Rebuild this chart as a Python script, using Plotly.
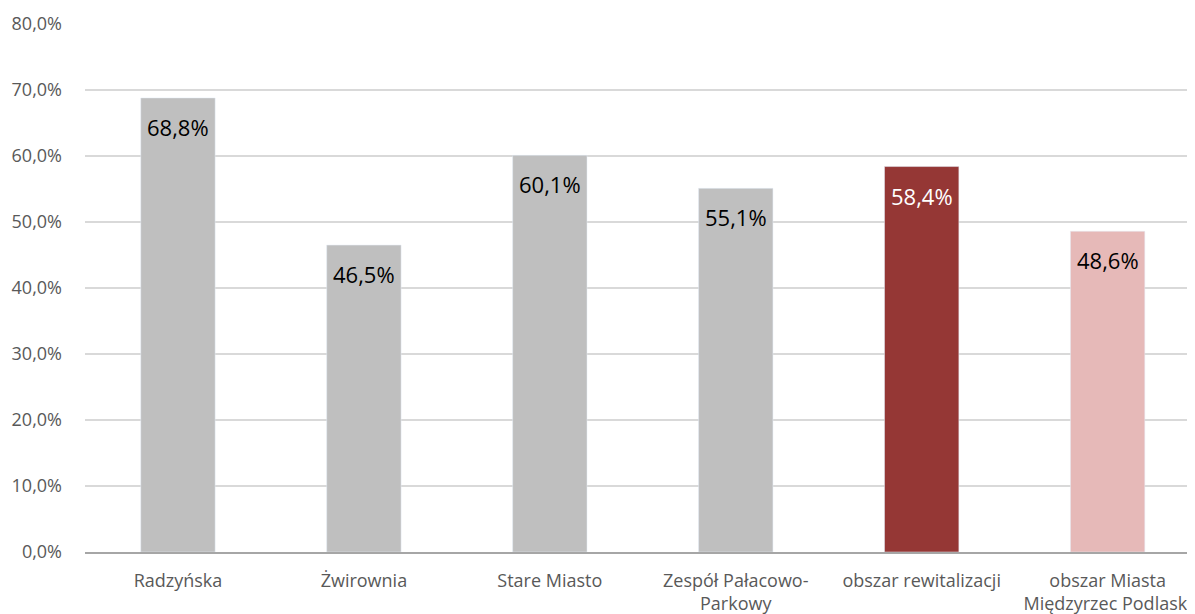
import plotly.graph_objects as go

categories = ["Radzyńska", "Żwirownia", "Stare Miasto", "Zespół Pałacowo-<br>Parkowy",
              "obszar rewitalizacji", "obszar Miasta<br>Międzyrzec Podlaski"]
values = [68.8, 46.5, 60.1, 55.1, 58.4, 48.6]
labels = ["68,8%", "46,5%", "60,1%", "55,1%", "58,4%", "48,6%"]
bar_colors = ["#bfbfbf", "#bfbfbf", "#bfbfbf", "#bfbfbf", "#953735", "#e6b9b8"]
text_colors = ["#000000", "#000000", "#000000", "#000000", "#ffffff", "#000000"]
tick_vals = [0, 10, 20, 30, 40, 50, 60, 70, 80]
tick_text = ["0,0%", "10,0%", "20,0%", "30,0%", "40,0%", "50,0%", "60,0%", "70,0%", "80,0%"]

xs = list(range(len(categories)))
fig = go.Figure(go.Bar(x=xs, y=values, marker_color=bar_colors, hoverinfo="skip"))

for x, v, t, c in zip(xs, values, labels, text_colors):
    fig.add_annotation(x=x, y=v, text=t, showarrow=False, yanchor="middle", yshift=-29,
                       font=dict(family="Open Sans", size=22, color=c))

fig.update_layout(
    width=1187, height=606, bargap=0.6,
    margin=dict(l=77, r=0, t=16, b=62),
    plot_bgcolor="white", paper_bgcolor="white",
    showlegend=False,
    font=dict(family="Open Sans", color="#595959", size=18),
    xaxis=dict(tickmode="array", tickvals=xs, ticktext=categories,
               range=[-0.5, 5.47], showgrid=False, showline=True, linecolor="#a6a6a6", linewidth=2,
               ticks="", ticklabelstandoff=11, tickfont=dict(size=18, color="#595959")),
    yaxis=dict(range=[0, 80], tickvals=tick_vals, ticktext=tick_text, showgrid=True,
               gridcolor="#d9d9d9", gridwidth=1.5, zeroline=False, ticks="", ticklabelstandoff=22,
               tickfont=dict(size=18, color="#595959")),
)
fig.write_html("out.html")
